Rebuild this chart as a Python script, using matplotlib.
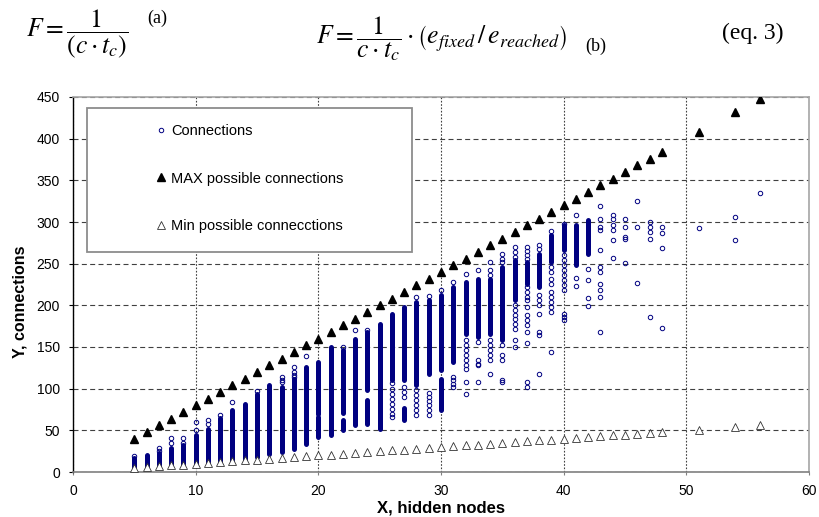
import matplotlib
matplotlib.use("Agg")
import matplotlib.pyplot as plt
from matplotlib.patches import Rectangle

# ---------------- data ----------------
hidden_nodes = [5, 6, 7, 8, 9, 10, 11, 12, 13, 14, 15, 16, 17, 18, 19, 20, 21, 22, 23, 24,
                25, 26, 27, 28, 29, 30, 31, 32, 33, 34, 35, 36, 37, 38, 39, 40, 41, 42, 43,
                44, 45, 46, 47, 48, 51, 54, 56]
max_conn = [40, 48, 56, 64, 72, 80, 88, 96, 104, 112, 120, 128, 136, 144, 152, 160, 168, 176,
            184, 192, 200, 208, 216, 224, 232, 240, 248, 256, 264, 272, 280, 288, 296, 304,
            312, 320, 328, 336, 344, 352, 360, 368, 376, 384, 408, 432, 448]
min_conn = [5, 6, 7, 8, 9, 10, 11, 12, 13, 14, 15, 16, 17, 18, 19, 20, 21, 22, 23, 24,
            25, 26, 27, 28, 29, 30, 31, 32, 33, 34, 35, 36, 37, 38, 39, 40, 41, 42, 43,
            44, 45, 46, 47, 48, 51, 54, 56]

# dense runs of "Connections" points (hidden nodes, lowest, highest)
dense_x  = [5, 6, 7, 8, 9, 10, 11, 12, 13, 14, 15, 16, 17, 18, 19, 20, 20, 21, 22, 22, 23,
            24, 24, 25, 26, 27, 27, 28, 29, 30, 30, 31, 32, 33, 34, 35, 36, 37, 38, 39,
            40, 41, 42]
dense_lo = [5, 6, 7, 8, 9, 10, 11, 12, 13, 14, 18, 22, 24, 28, 34, 42, 70, 44, 71, 50, 56,
            98, 58, 52, 110, 110, 62, 104, 118, 122, 74, 132, 166, 162, 166, 158, 206, 226,
            222, 252, 266, 248, 262]
dense_hi = [17, 20, 23, 29, 33, 44, 52, 65, 75, 82, 94, 104, 102, 112, 126, 66, 132, 150,
            146, 62, 160, 168, 86, 178, 190, 198, 77, 204, 206, 212, 112, 222, 228, 232,
            232, 246, 254, 252, 262, 284, 296, 296, 302]

# individual "Connections" points
pts_x = [5, 7, 7, 8, 8, 9, 9, 10, 10, 11, 11, 12, 13, 15, 17, 17, 17, 18, 18, 18, 18, 19,
         22, 23, 24,
         26, 26, 26, 26, 26, 26, 26, 26, 27, 27, 27,
         28, 28, 28, 28, 28, 28, 28, 29, 29, 29, 29, 29, 29, 29,
         30, 31, 31, 31, 31, 31,
         32, 32, 32, 32, 32, 32, 32, 32, 32, 32,
         33, 33, 33, 33, 33, 33,
         34, 34, 34, 34, 34, 34, 34, 34, 34,
         35, 35, 35, 35, 35, 35, 35, 35,
         36, 36, 36, 36, 36, 36, 36, 36, 36, 36, 36,
         37, 37, 37, 37, 37, 37, 37, 37, 37, 37, 37, 37, 37, 37, 37, 37,
         38, 38, 38, 38, 38, 38, 38, 38, 38,
         39, 39, 39, 39, 39, 39, 39, 39, 39, 39, 39,
         40, 40, 40, 40, 40, 40, 40, 40, 40, 40, 40, 40,
         41, 41, 41, 42, 42, 42, 42,
         43, 43, 43, 43, 43, 43, 43, 43, 43, 43, 43,
         44, 44, 44, 44, 44, 44, 45, 45, 45, 45, 45, 46, 46, 46,
         47, 47, 47, 47, 47, 48, 48, 48, 48, 51, 54, 54, 56]
pts_y = [19, 25, 29, 35, 41, 35, 41, 50, 60, 58, 63, 69, 84, 97, 108, 111, 114, 114, 117, 120, 126, 139,
         150, 170, 170,
         107, 100, 94, 88, 82, 76, 70, 66, 102, 96, 90,
         210, 98, 92, 86, 80, 74, 68, 211, 95, 90, 85, 80, 74, 68,
         218, 228, 114, 110, 106, 102,
         238, 158, 152, 146, 140, 134, 128, 124, 108, 94,
         242, 156, 134, 130, 128, 108,
         252, 242, 236, 158, 152, 146, 140, 135, 118,
         262, 256, 252, 152, 140, 134, 110, 108,
         270, 264, 258, 200, 194, 188, 184, 178, 172, 158, 150,
         270, 265, 260, 222, 216, 210, 206, 198, 188, 182, 176, 168, 155, 108, 102, 256,
         272, 268, 212, 206, 200, 190, 168, 164, 118,
         289, 246, 240, 232, 226, 216, 210, 204, 198, 192, 144,
         298, 260, 254, 248, 242, 236, 230, 224, 218, 190, 186, 182,
         308, 233, 223, 244, 230, 209, 199,
         319, 304, 294, 290, 266, 246, 240, 226, 218, 210, 168,
         309, 304, 296, 290, 278, 257, 304, 294, 282, 280, 251, 325, 294, 227,
         300, 294, 288, 280, 186, 294, 287, 269, 173, 293, 306, 278, 335]

x_ticks = [0, 10, 20, 30, 40, 50, 60]
y_ticks = [0, 50, 100, 150, 200, 250, 300, 350, 400, 450]

# ---------------- figure ----------------
plt.rcParams["font.family"] = ["Liberation Sans", "DejaVu Sans"]
plt.rcParams["mathtext.fontset"] = "stix"

W, H = 820, 517
fig = plt.figure(figsize=(W / 100, H / 100), dpi=100)
ax = fig.add_axes([73 / W, 1 - 472 / H, 736 / W, 375 / H])

navy = "#000080"
ax.vlines(dense_x, dense_lo, dense_hi, colors=navy, linewidth=3.6,
          capstyle="round", zorder=3)
h_conn, = ax.plot(pts_x, pts_y, "o", ls="none", ms=3.2, mfc="none", mec=navy,
                  mew=0.7, zorder=3, label="Connections")
h_max, = ax.plot(hidden_nodes, max_conn, "^", ls="none", ms=5.2, color="black",
                 zorder=3, label="MAX possible connections")
h_min, = ax.plot(hidden_nodes, min_conn, "^", ls="none", ms=5.2, mfc="white",
                 mec="#333333", mew=0.6, zorder=3, label="Min possible connecctions")

ax.set_xlim(0, 60)
ax.set_ylim(0, 450)
ax.set_xticks(x_ticks)
ax.set_yticks(y_ticks)
ax.set_axisbelow(True)
ax.yaxis.grid(True, linestyle=(0, (4.5, 3)), color="#404040", linewidth=0.8)
ax.xaxis.grid(True, linestyle=(0, (1.5, 1.5)), color="#404040", linewidth=0.8)

for s in ["top", "right"]:
    ax.spines[s].set_color("#a6a6a6")
    ax.spines[s].set_linewidth(1.2)
ax.spines["left"].set_color("black")
ax.spines["left"].set_linewidth(1.0)
ax.spines["bottom"].set_color("#808080")
ax.spines["bottom"].set_linewidth(1.2)

ax.tick_params(axis="y", direction="out", length=3, width=0.8, labelsize=10, pad=6.5)
ax.tick_params(axis="x", direction="out", length=2.5, width=0.8, labelsize=10, pad=6,
               color="#808080")

ax.set_xlabel("X, hidden nodes", fontsize=12, fontweight="bold")
ax.xaxis.set_label_coords(0.5, -0.077)
ax.set_ylabel("Y, connections", fontsize=11.5, fontweight="bold")
ax.yaxis.set_label_coords(-0.062, 0.453)

# legend frame + entries
ax.add_patch(Rectangle((0.019, 0.5867), 0.4416, 0.384, transform=ax.transAxes,
                       facecolor="white", edgecolor="#8c8c8c", linewidth=1.3, zorder=4))
leg = ax.legend(handles=[h_conn, h_max, h_min], loc="upper left",
                bbox_to_anchor=(0.114, 0.928), borderaxespad=0, borderpad=0,
                frameon=False, handlelength=0.6, handletextpad=0.4,
                labelspacing=2.3, fontsize=10.5, numpoints=1)
leg.set_zorder(5)

# equations above the chart
def fx(px):
    return px / W

def fy(py):
    return 1 - py / H

fig.text(fx(26), fy(34), r"$F=\dfrac{1}{\left(c\cdot t_c\right)}$", fontsize=18.5,
         va="center", ha="left")
fig.text(fx(147), fy(18), "(a)", fontsize=13, family="Liberation Serif",
         va="center", ha="left")
fig.text(fx(316), fy(39), r"$F=\dfrac{1}{c\cdot t_c}\cdot\left(e_{fixed}\,/\,e_{reached}\right)$",
         fontsize=18.5, va="center", ha="left")
fig.text(fx(585), fy(46), "(b)", fontsize=13, family="Liberation Serif",
         va="center", ha="left")
fig.text(fx(722), fy(33), "(eq. 3)", fontsize=17, family="Liberation Serif",
         va="center", ha="left")

fig.savefig("out.png", dpi=100)
